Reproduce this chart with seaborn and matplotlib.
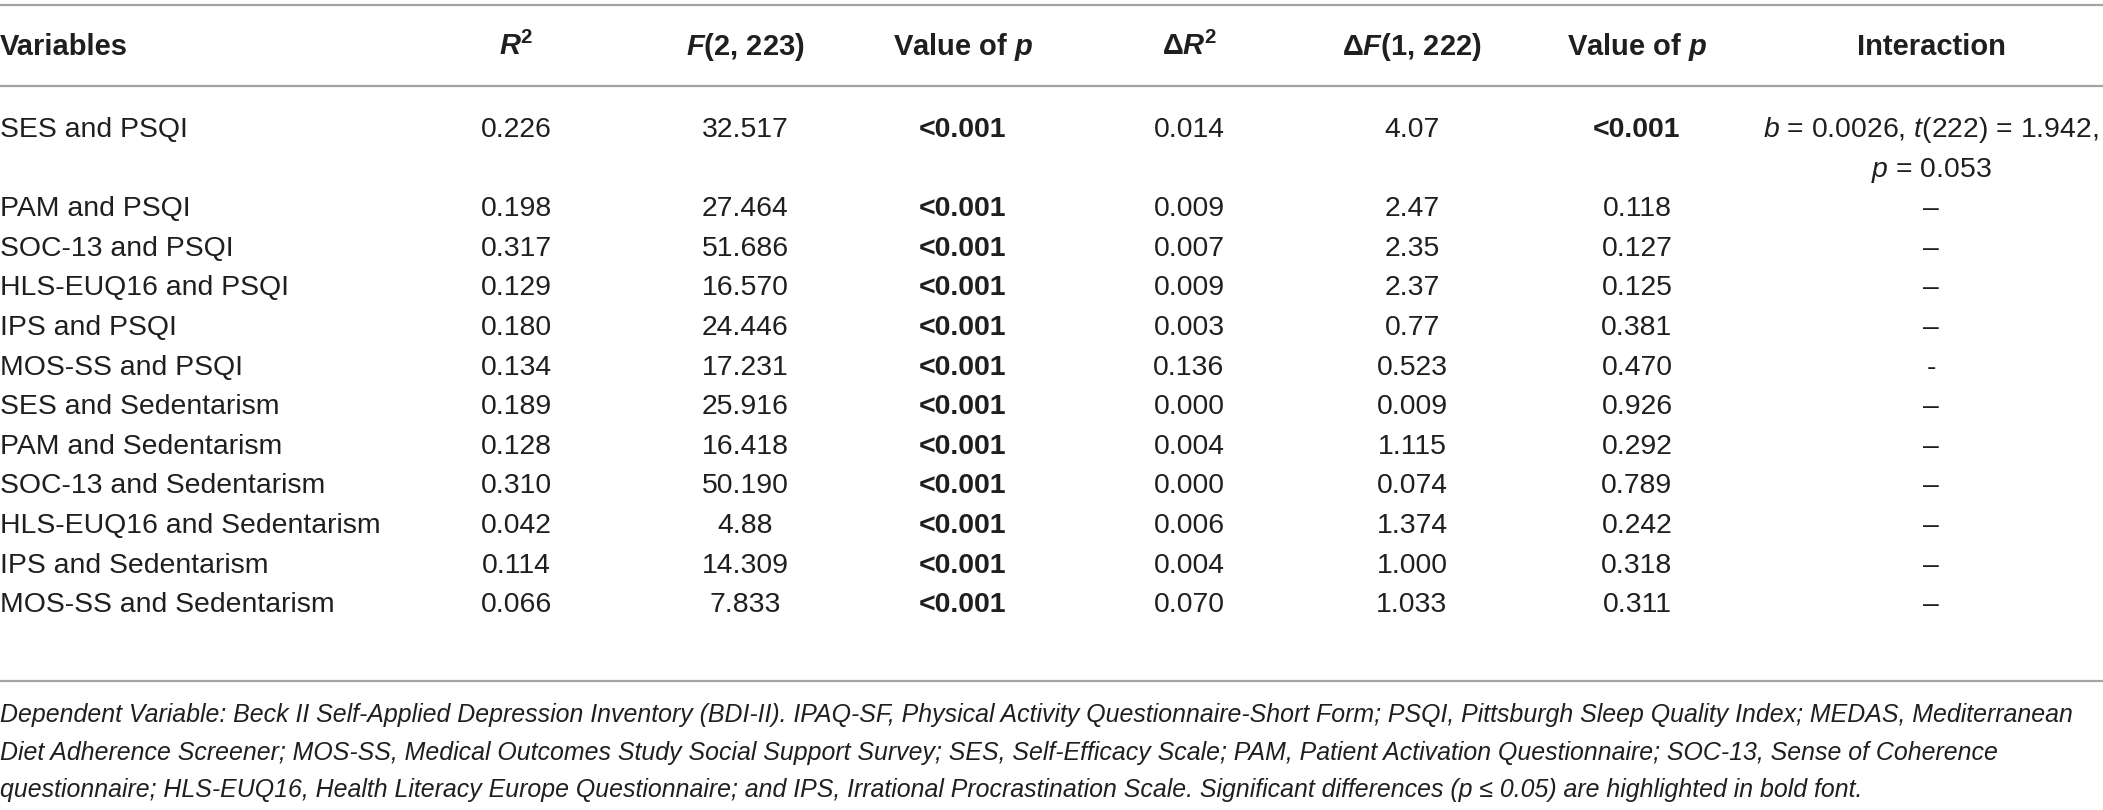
import matplotlib
matplotlib.use("Agg")
import matplotlib.pyplot as plt
import seaborn as sns

# table content
variables = [
    "SES and PSQI", "PAM and PSQI", "SOC-13 and PSQI", "HLS-EUQ16 and PSQI",
    "IPS and PSQI", "MOS-SS and PSQI", "SES and Sedentarism",
    "PAM and Sedentarism", "SOC-13 and Sedentarism",
    "HLS-EUQ16 and Sedentarism", "IPS and Sedentarism", "MOS-SS and Sedentarism",
]
r2 = ["0.226", "0.198", "0.317", "0.129", "0.180", "0.134",
      "0.189", "0.128", "0.310", "0.042", "0.114", "0.066"]
f_vals = ["32.517", "27.464", "51.686", "16.570", "24.446", "17.231",
          "25.916", "16.418", "50.190", "4.88", "14.309", "7.833"]
p_model = ["<0.001"] * 12
delta_r2 = ["0.014", "0.009", "0.007", "0.009", "0.003", "0.136",
            "0.000", "0.004", "0.000", "0.006", "0.004", "0.070"]
delta_f = ["4.07", "2.47", "2.35", "2.37", "0.77", "0.523",
           "0.009", "1.115", "0.074", "1.374", "1.000", "1.033"]
p_change = ["<0.001", "0.118", "0.127", "0.125", "0.381", "0.470",
            "0.926", "0.292", "0.789", "0.242", "0.318", "0.311"]
interaction = [
    [r"$\mathit{b}$ = 0.0026, $\mathit{t}$(222) = 1.942,", r"$\mathit{p}$ = 0.053"],
    ["–"], ["–"], ["–"], ["–"], ["-"], ["–"], ["–"], ["–"], ["–"], ["–"], ["–"],
]
headers = [
    "Variables",
    r"$\mathbfit{R}^{\mathbf{2}}$",
    r"$\mathbfit{F}$(2, 223)",
    r"Value of $\mathbfit{p}$",
    r"Δ$\mathbfit{R}^{\mathbf{2}}$",
    r"Δ$\mathbfit{F}$(1, 222)",
    r"Value of $\mathbfit{p}$",
    "Interaction",
]
footnote = [
    "Dependent Variable: Beck II Self-Applied Depression Inventory (BDI-II). IPAQ-SF, "
    "Physical Activity Questionnaire-Short Form; PSQI, Pittsburgh Sleep Quality Index; MEDAS, Mediterranean",
    "Diet Adherence Screener; MOS-SS, Medical Outcomes Study Social Support Survey; SES, "
    "Self-Efficacy Scale; PAM, Patient Activation Questionnaire; SOC-13, Sense of Coherence",
    "questionnaire; HLS-EUQ16, Health Literacy Europe Questionnaire; and IPS, Irrational "
    "Procrastination Scale. Significant differences (p ≤ 0.05) are highlighted in bold font.",
]

# layout (pixel units of the 2103x810 canvas)
col_x = [0, 516, 745, 963, 1189, 1412, 1637, 1931]
header_base = 55
first_base = 137
line_h = 39.6
rules_y = [4.5, 86, 681]
foot_base = [722, 760, 797]
ink = "#1f1f1f"
rule_color = "#a3a3a3"

sns.set_theme(style="white")
plt.rcParams["font.family"] = ["Liberation Sans", "DejaVu Sans"]
plt.rcParams["mathtext.fontset"] = "custom"
plt.rcParams["mathtext.rm"] = "Liberation Sans"
plt.rcParams["mathtext.it"] = "Liberation Sans:italic"
plt.rcParams["mathtext.bf"] = "Liberation Sans:bold"
plt.rcParams["mathtext.bfit"] = "Liberation Sans:bold:italic"

fig = plt.figure(figsize=(21.03, 8.10), dpi=100)
ax = fig.add_axes([0, 0, 1, 1])
ax.set_xlim(0, 2103)
ax.set_ylim(810, 0)
sns.despine(ax=ax, left=True, bottom=True)
ax.set_axis_off()

fs = 20.4
for y in rules_y:
    ax.axhline(y, color=rule_color, lw=1.6)

for j, h in enumerate(headers):
    ax.text(col_x[j], header_base, h, ha="left" if j == 0 else "center",
            va="baseline", fontsize=21, fontweight="bold", color=ink)

columns = [r2, f_vals, p_model, delta_r2, delta_f, p_change]
for i, name in enumerate(variables):
    base = first_base if i == 0 else first_base + (i + 1) * line_h
    ax.text(col_x[0], base, name, ha="left", va="baseline", fontsize=fs, color=ink)
    for j, col in enumerate(columns, start=1):
        val = col[i]
        ax.text(col_x[j], base, val, ha="center", va="baseline", fontsize=fs,
                color=ink, fontweight="bold" if val.startswith("<") else "normal")
    for k, part in enumerate(interaction[i]):
        ax.text(col_x[7], base + k * line_h, part, ha="center", va="baseline",
                fontsize=fs, color=ink)

for line, y in zip(footnote, foot_base):
    ax.text(0, y, line, ha="left", va="baseline", fontsize=17.9,
            fontstyle="italic", color=ink)

fig.savefig("out.png", dpi=100, facecolor="white")
